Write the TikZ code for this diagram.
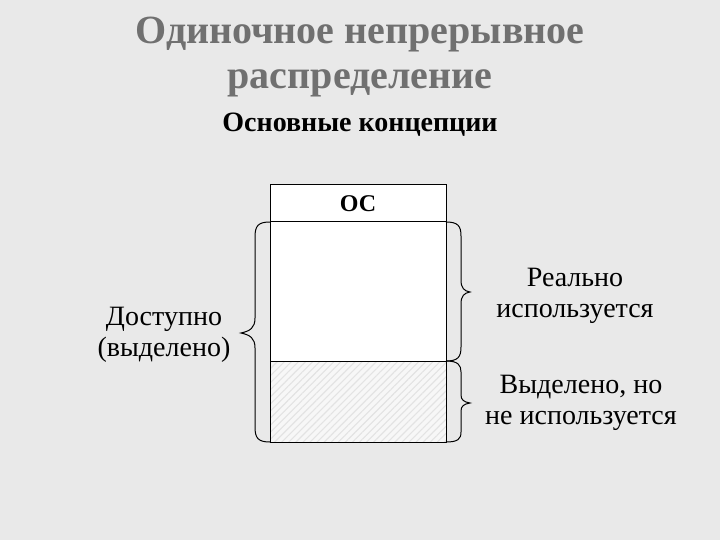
\documentclass[tikz,border=0pt]{standalone}
\usepackage{fontspec}
\setmainfont{Liberation Serif}
\usetikzlibrary{patterns.meta}
\definecolor{bg}{HTML}{E9E9E9}
\definecolor{titlegray}{HTML}{707070}
\begin{document}
\begin{tikzpicture}[x=1pt,y=-1pt,
  cell/.style={draw=black,line width=1pt,minimum width=176pt,inner sep=0pt,outer sep=0pt,anchor=north west},
  brace/.style={draw=black,line width=1pt},
  lbl/.style={font=\fontsize{28}{31}\selectfont,align=center,inner sep=0pt}]
\fill[bg] (0,0) rectangle (720,540);
\useasboundingbox (0,0) rectangle (720,540);
\node[font=\fontsize{40}{45}\selectfont\bfseries,text=titlegray,align=center,inner sep=0pt] (title) at (360,57) {Одиночное непрерывное\\распределение};
\node[font=\fontsize{28}{32}\selectfont\bfseries,inner sep=0pt] (sub) at (360,125) {Основные концепции};
\node[cell,fill=white,minimum height=37pt,font=\fontsize{24}{28}\selectfont\bfseries] (os) at (270,185) {ОС};
\node[cell,fill=white,minimum height=139pt] (used) at (270,222) {};
\node[cell,fill=gray!6,minimum height=81pt] (free) at (270,361) {};
\fill[pattern={Lines[angle=45,distance=5pt,line width=1.1pt]},pattern color=gray!22] (free.north west) rectangle (free.south east);
\draw[line width=1pt] (free.north west) rectangle (free.south east);
% left brace
\draw[brace] (used.north west) .. controls (258,222) and (255,226) .. (255,237)
  -- (255,318) .. controls (255,328) and (250,331) .. (241,333)
  .. controls (250,335) and (255,338) .. (255,348)
  -- (255,427) .. controls (255,438) and (258,442) .. (free.south west);
% right brace, used
\draw[brace] (used.north east) .. controls (458,222) and (461,226) .. (461,236)
  -- (461,280) .. controls (461,288) and (464,291) .. (470,292)
  .. controls (464,293) and (461,296) .. (461,304)
  -- (461,347) .. controls (461,357) and (458,361) .. (used.south east);
% right brace, free
\draw[brace] (free.north east) .. controls (458,361) and (461,365) .. (461,372)
  -- (461,395) .. controls (461,400) and (464,402) .. (470,403)
  .. controls (464,404) and (461,406) .. (461,411)
  -- (461,432) .. controls (461,439) and (458,442) .. (free.south east);
\node[lbl] (avail) at (164,335) {Доступно\\(выделено)};
\node[lbl] (real) at (575,296) {Реально\\используется};
\node[lbl] (unused) at (581,403) {Выделено, но\\не используется};
\end{tikzpicture}
\end{document}
